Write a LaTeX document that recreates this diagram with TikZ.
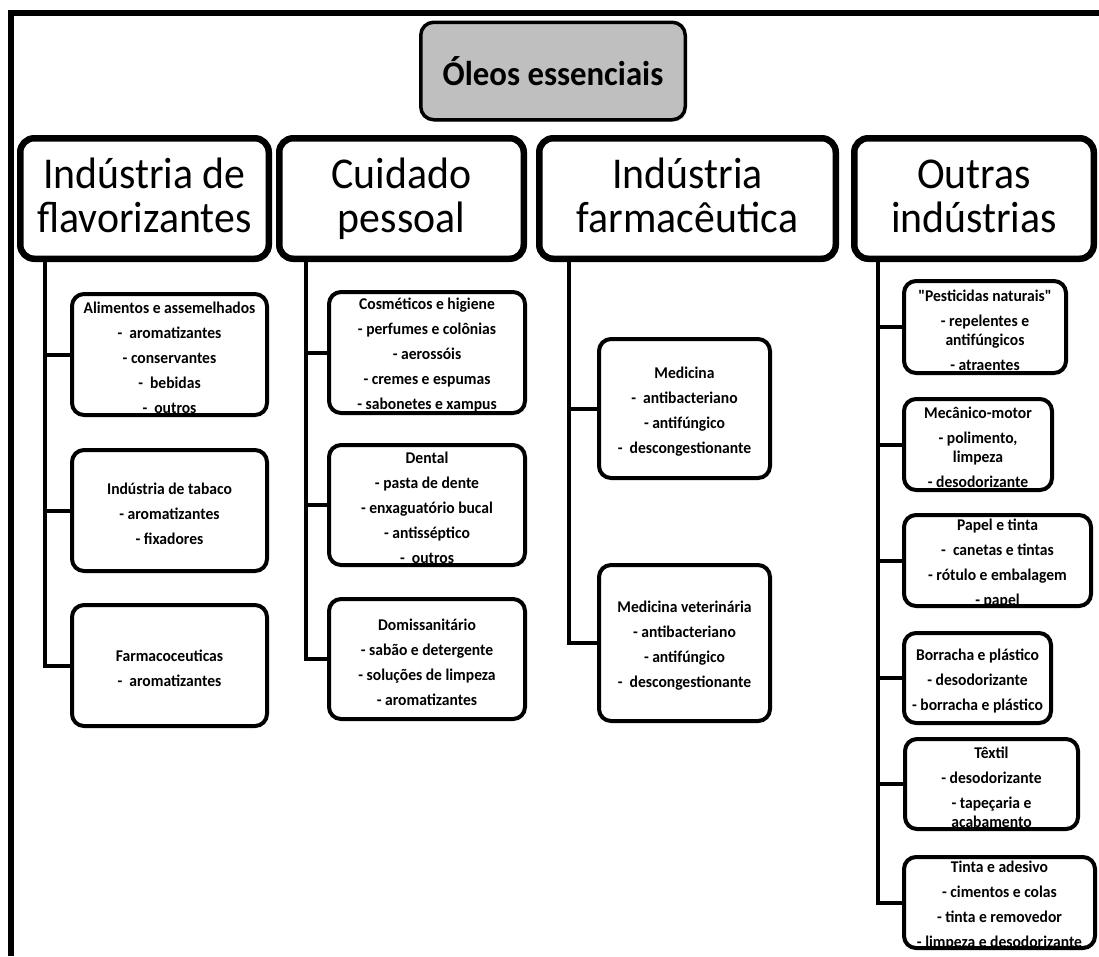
\documentclass[tikz,border=0pt]{standalone}
\usepackage{fontspec}
\setmainfont{Carlito}[FakeStretch=0.95, Ligatures=TeXOff]
\usetikzlibrary{shadows}
\newcommand\lonestrut{\rule[-10.5pt]{0pt}{44pt}}
\tikzset{
  frameline/.style={line width=6pt},
  topbox/.style={draw, line width=3.5pt, rounded corners=13pt, fill=black!25, inner sep=0pt,
    font=\bfseries\fontsize{34.5}{38}\selectfont,
    drop shadow={shadow xshift=1.5pt, shadow yshift=-2pt, opacity=0.25}},
  lone/.style={draw, line width=6.5pt, rounded corners=14pt, fill=white, align=center, inner sep=0pt,
    minimum height=120.5pt, font=\fontsize{44}{44}\selectfont,
    drop shadow={shadow xshift=2pt, shadow yshift=-3pt, opacity=0.25}},
  subbox/.style={draw, line width=4pt, rounded corners=12pt, fill=white, inner sep=0pt},
  subtext/.style={align=center, inner sep=0pt, font=\bfseries\fontsize{16.4}{19}\selectfont},
  trunk/.style={line width=4pt}
}
% name, x, y, width, height, text
\newcommand\subnode[6]{%
  \node[subbox, minimum width=#4pt, minimum height=#5pt] (#1) at (#2,#3) {};
  \node[subtext] (#1-t) at ([yshift=-3pt]#1.center) {#6};}
\begin{document}
\begin{tikzpicture}[x=1pt,y=-1pt]
\useasboundingbox (0,0) rectangle (1099,956);
\fill[white] (0,0) rectangle (1099,956);
% frame
\draw[frameline] (8,13) -- (1099,13);
\draw[frameline] (11,10) -- (11,956);

% top
\node[topbox, minimum width=264.5pt, minimum height=97.5pt] (root) at (553,71) {Óleos essenciais};

% level one
\node[lone, minimum width=248.5pt] (A) at (144.5,198.5) {\lonestrut Indústria de\\\lonestrut flavorizantes};
\node[lone, minimum width=244.5pt] (B) at (401.5,198.5) {\lonestrut Cuidado\\\lonestrut pessoal};
\node[lone, minimum width=296.5pt] (C) at (687.5,198.5) {\lonestrut Indústria\\\lonestrut farmacêutica};
\node[lone, minimum width=239.5pt] (D) at (974,198.5) {\lonestrut Outras\\\lonestrut indústrias};

% column A
\subnode{a1}{169.5}{354.5}{195}{121}{Alimentos e assemelhados\\[6pt] -\ \ aromatizantes\\[6pt] - conservantes\\[6pt] -\ \ bebidas\\[6pt] -\ \ outros}
\subnode{a2}{169.5}{510.5}{195}{121}{Indústria de tabaco\\[6pt] - aromatizantes\\[6pt] - fixadores}
\subnode{a3}{169.5}{665.5}{195}{121}{Farmacoceuticas\\[6pt] -\ \ aromatizantes}

% column B
\subnode{b1}{427}{352.5}{196}{121}{Cosméticos e higiene\\[6pt] - perfumes e colônias\\[6pt] - aerossóis\\[6pt] - cremes e espumas\\[6pt] - sabonetes e xampus}
\subnode{b2}{427}{505}{196}{120}{Dental\\[6pt] - pasta de dente\\[6pt] - enxaguatório bucal\\[6pt] - antisséptico\\[6pt] -\ \ outros}
\subnode{b3}{427}{659}{196}{120}{Domissanitário\\[6pt] - sabão e detergente\\[6pt] - soluções de limpeza\\[6pt] - aromatizantes}

% column C
\subnode{c1}{684.5}{408.5}{171}{139}{Medicina\\[6pt] -\ \ antibacteriano\\[6pt] - antifúngico\\[6pt] -\ \ descongestionante}
\subnode{c2}{684.5}{643}{171}{156}{Medicina veterinária\\[6pt] - antibacteriano\\[6pt] - antifúngico\\[6pt] -\ \ descongestionante}

% column D
\subnode{d1}{985}{327}{162}{92}{"Pesticidas naturais"\\[6pt] - repelentes e\\antifúngicos\\[6pt] - atraentes}
\subnode{d2}{978}{444.5}{148}{91}{Mecânico-motor\\[6pt] - polimento,\\limpeza\\[6pt] - desodorizante}
\subnode{d3}{997.5}{560.5}{187}{91}{Papel e tinta\\[6pt] -\ \ canetas e tintas\\[6pt] - rótulo e embalagem\\[6pt] - papel}
\subnode{d4}{977.5}{678}{147}{90}{Borracha e plástico\\[6pt] - desodorizante\\[6pt] - borracha e plástico}
\subnode{d5}{991.5}{784}{173}{90}{Têxtil\\[6pt] - desodorizante\\[6pt] - tapeçaria e\\acabamento}
\subnode{d6}{999.5}{902.5}{191}{91}{Tinta e adesivo\\[6pt] - cimentos e colas\\[6pt] - tinta e removedor\\[6pt] - limpeza e desodorizante}

% trunk anchors
\coordinate (ta) at (45,262);
\coordinate (tb) at (306,262);
\coordinate (tc) at (569,260);
\coordinate (td) at (878,260);

\draw[trunk] (ta) |- (a3.west);
\draw[trunk] (ta |- a1.west) -- (a1.west);
\draw[trunk] (ta |- a2.west) -- (a2.west);

\draw[trunk] (tb) |- (b3.west);
\draw[trunk] (tb |- b1.west) -- (b1.west);
\draw[trunk] (tb |- b2.west) -- (b2.west);

\draw[trunk] (tc) |- (c2.west);
\draw[trunk] (tc |- c1.west) -- (c1.west);

\draw[trunk] (td) |- (d6.west);
\draw[trunk] (td |- d1.west) -- (d1.west);
\draw[trunk] (td |- d2.west) -- (d2.west);
\draw[trunk] (td |- d3.west) -- (d3.west);
\draw[trunk] (td |- d4.west) -- (d4.west);
\draw[trunk] (td |- d5.west) -- (d5.west);
\end{tikzpicture}
\end{document}
